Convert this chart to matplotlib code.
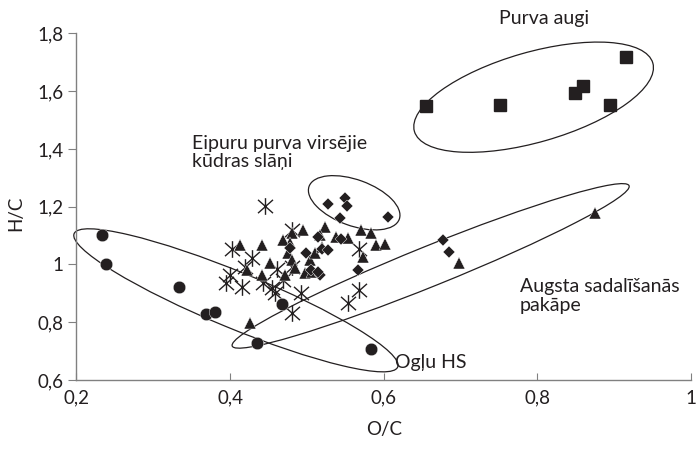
import numpy as np
import matplotlib.pyplot as plt
from matplotlib.patches import Ellipse
from matplotlib.path import Path
from matplotlib.transforms import Affine2D

plt.rcParams['font.family'] = ['Lato', 'DejaVu Sans']

# Purva augi (kvadrāti)
sq_x = [0.655, 0.751, 0.849, 0.859, 0.894, 0.915]
sq_y = [1.548, 1.552, 1.592, 1.618, 1.552, 1.717]

# Ogļu HS (apļi)
ci_x = [0.233, 0.238, 0.334, 0.369, 0.381, 0.468, 0.435, 0.583]
ci_y = [1.101, 1.002, 0.921, 0.828, 0.837, 0.863, 0.729, 0.706]

# rombi
di_x = [0.527, 0.549, 0.552, 0.543, 0.605, 0.677, 0.685, 0.567, 0.517,
        0.514, 0.520, 0.544, 0.499, 0.478, 0.528, 0.505, 0.515]
di_y = [1.209, 1.229, 1.202, 1.160, 1.163, 1.085, 1.044, 0.981, 0.963,
        1.096, 1.052, 1.087, 1.038, 1.056, 1.050, 0.980, 0.973]

# trijstūri
tr_x = [0.413, 0.441, 0.452, 0.441, 0.422, 0.495, 0.481, 0.478, 0.475, 0.481,
        0.484, 0.472, 0.504, 0.511, 0.498, 0.507, 0.523, 0.517, 0.538, 0.553,
        0.570, 0.583, 0.590, 0.602, 0.573, 0.426, 0.698, 0.875, 0.469, 0.520]
tr_y = [1.067, 1.067, 1.004, 0.963, 0.981, 1.119, 1.108, 1.073, 1.038, 1.015,
        0.987, 0.963, 1.015, 1.038, 0.969, 0.975, 1.131, 1.102, 1.096, 1.090,
        1.119, 1.108, 1.067, 1.071, 1.027, 0.798, 1.004, 1.177, 1.085, 1.062]

# zvaigznītes
st_x = [0.446, 0.480, 0.403, 0.395, 0.400, 0.415, 0.420, 0.428, 0.461, 0.455,
        0.458, 0.469, 0.480, 0.492, 0.568, 0.553, 0.568, 0.481, 0.443]
st_y = [1.202, 1.119, 1.052, 0.937, 0.963, 0.923, 0.992, 1.021, 0.983, 0.917,
        0.900, 0.946, 0.831, 0.900, 0.912, 0.865, 1.052, 0.992, 0.935]

# elipses: centrs (dati), pusasis a, b (px), leņķis
ell_cx = [0.795, 0.5615, 0.4076, 0.661]
ell_cy = [1.579, 1.2135, 0.8758, 0.995]
ell_a = [124, 48, 175, 214]
ell_b = [45, 23, 28, 20]
ell_ang = [16, -20, -22.4, 22]

ink = '#231f20'

# zvaigznītes marķieris: vertikāla līnija + X
star = Path([(0, -1), (0, 1), (-0.9, -0.8), (0.9, 0.8), (-0.9, 0.8), (0.9, -0.8)],
            [Path.MOVETO, Path.LINETO] * 3)

fig = plt.figure(figsize=(6.97, 4.49), dpi=100)
ax = fig.add_axes([0.1096, 0.1537, 0.882, 0.772])
ax.set_xlim(0.2, 1.0)
ax.set_ylim(0.6, 1.8)

ax.plot(st_x, st_y, ls='none', marker=star, ms=12, mec=ink, mew=1.0)
ax.plot(tr_x, tr_y, ls='none', marker='^', ms=9, color=ink, mec='white', mew=0.3)
ax.plot(di_x, di_y, ls='none', marker='D', ms=6.5, color=ink, mec='white', mew=0.3)
ax.plot(ci_x, ci_y, ls='none', marker='o', ms=9, color=ink, mec='white', mew=0.3)
ax.plot(sq_x, sq_y, ls='none', marker='s', ms=8.5, color=ink)

# px per data unit on each axis
bb = ax.get_window_extent()
sx = bb.width / 0.8
sy = bb.height / 1.2
for cx, cy, a, b, ang in zip(ell_cx, ell_cy, ell_a, ell_b, ell_ang):
    tr = Affine2D().scale(1 / sx, 1 / sy).translate(cx, cy) + ax.transData
    e = Ellipse((0, 0), 2 * a, 2 * b, angle=ang, fill=False, ec=ink, lw=0.9,
                transform=tr, clip_on=False)
    ax.add_patch(e)

ax.set_xticks([0.2, 0.4, 0.6, 0.8, 1.0])
ax.set_xticklabels(['0,2', '0,4', '0,6', '0,8', '1'])
ax.set_yticks([0.6, 0.8, 1.0, 1.2, 1.4, 1.6, 1.8])
ax.set_yticklabels(['0,6', '0,8', '1', '1,2', '1,4', '1,6', '1,8'])

for sp in ['top', 'right']:
    ax.spines[sp].set_visible(False)
for sp in ['left', 'bottom']:
    ax.spines[sp].set_color('#808080')
    ax.spines[sp].set_linewidth(1.0)
ax.tick_params(axis='y', direction='out', length=5.5, color='#808080',
               labelsize=13.5, labelcolor=ink, pad=4)
ax.tick_params(axis='x', direction='in', length=5, color='#808080',
               labelsize=13.5, labelcolor=ink, pad=7)

ax.set_xlabel('O/C', fontsize=13.5, color=ink, labelpad=10)
ax.set_ylabel('H/C', fontsize=13.5, color=ink)
ax.yaxis.set_label_coords(-0.085, 0.48)

txt = dict(fontsize=14, color=ink, clip_on=False)
ax.text(0.750, 1.853, 'Purva augi', va='center', ha='left', **txt)
ax.text(0.350, 1.387, 'Eipuru purva virsējie\nkūdras slāņi', va='center',
        ha='left', linespacing=1.1, **txt)
ax.text(0.777, 0.891, 'Augsta sadalīšanās\npakāpe', va='center', ha='left',
        linespacing=1.1, **txt)
ax.text(0.615, 0.659, 'Ogļu HS', va='center', ha='left', **txt)

fig.savefig('out.png', dpi=100)
